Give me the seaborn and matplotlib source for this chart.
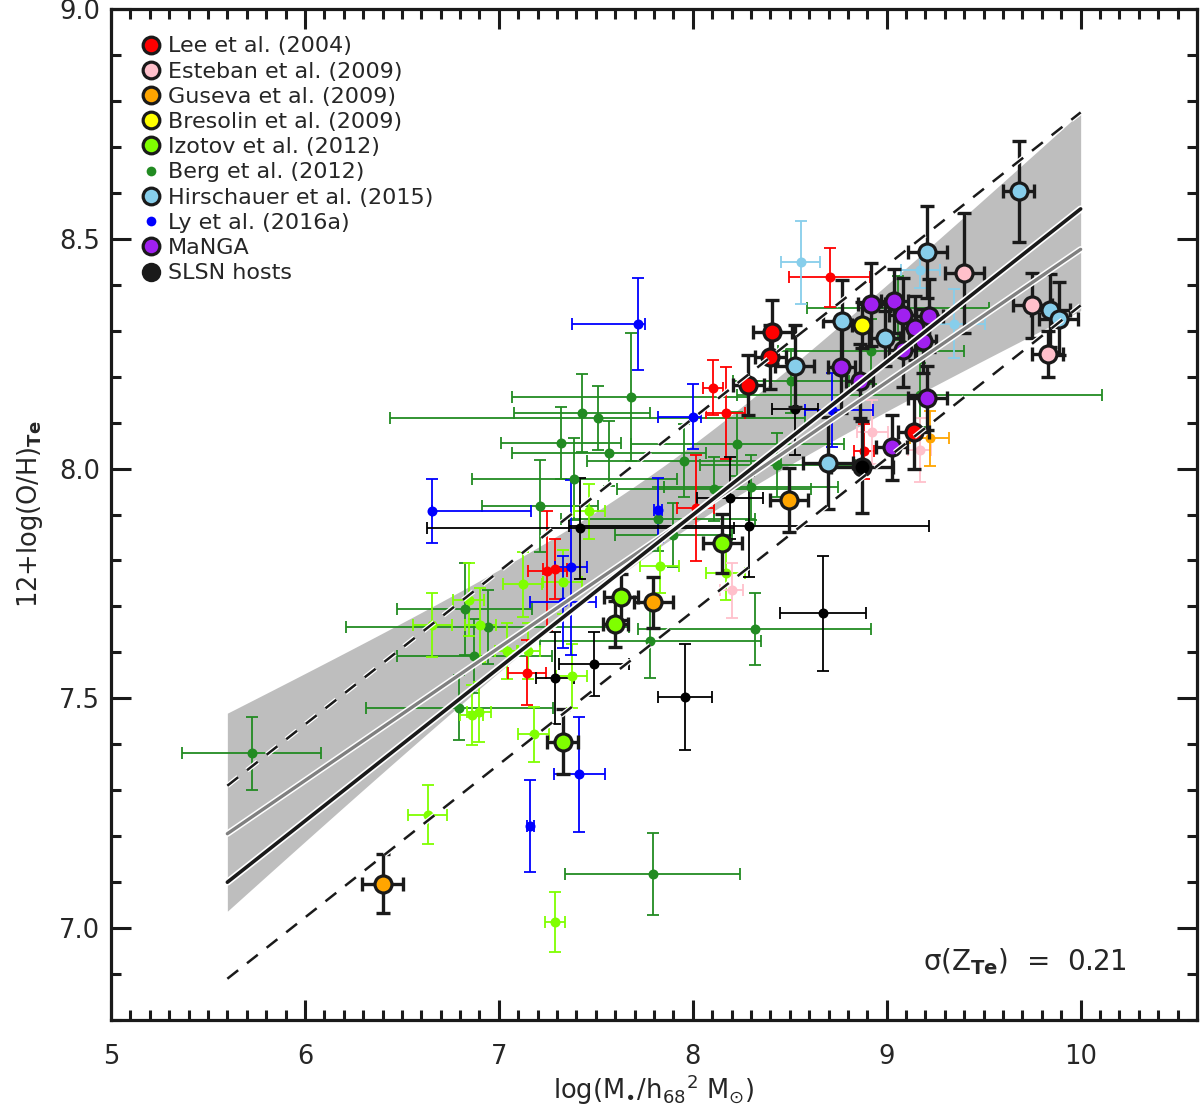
import numpy as np
import pandas as pd
import matplotlib
matplotlib.use("Agg")
import matplotlib.pyplot as plt
import seaborn as sns
from matplotlib.lines import Line2D
from matplotlib.ticker import MultipleLocator, FormatStrFormatter
import matplotlib.patheffects as pe

# ---------------- data ----------------
# Lee et al. (2004)
lee_big_x = [8.41, 8.285, 8.40, 9.14]
lee_big_y = [8.297, 8.182, 8.243, 8.08]
lee_big_xe = [0.10, 0.08, 0.08, 0.08]
lee_big_ye = [0.07, 0.065, 0.07, 0.08]
lee_sm_x = [8.706, 8.105, 8.17, 8.016, 7.25, 7.29, 7.145, 8.883]
lee_sm_y = [8.416, 8.176, 8.12, 7.914, 7.777, 7.782, 7.556, 8.038]
lee_sm_xe = [0.21, 0.05, 0.10, 0.095, 0.10, 0.06, 0.10, 0.05]
lee_sm_ye = [0.065, 0.06, 0.10, 0.116, 0.13, 0.065, 0.07, 0.06]

# Esteban et al. (2009)
est_big_x = [9.40, 9.75, 9.83]
est_big_y = [8.425, 8.355, 8.25]
est_big_xe = [0.10, 0.10, 0.08]
est_big_ye = [0.13, 0.07, 0.05]
est_sm_x = [8.925, 8.20, 9.17]
est_sm_y = [8.08, 7.735, 8.04]
est_sm_xe = [0.08, 0.06, 0.06]
est_sm_ye = [0.07, 0.06, 0.07]

# Guseva et al. (2009)
gus_big_x = [6.40, 7.796, 8.496]
gus_big_y = [7.097, 7.709, 7.931]
gus_big_xe = [0.105, 0.10, 0.10]
gus_big_ye = [0.065, 0.055, 0.07]
gus_sm_x = [9.222]
gus_sm_y = [8.066]
gus_sm_xe = [0.10]
gus_sm_ye = [0.06]

# Bresolin et al. (2009)
bre_big_x = [8.87]
bre_big_y = [8.312]
bre_big_xe = [0.05]
bre_big_ye = [0.05]

# Izotov et al. (2012)
izo_big_x = [7.33, 7.60, 7.63, 8.153]
izo_big_y = [7.406, 7.661, 7.72, 7.837]
izo_big_xe = [0.08, 0.065, 0.09, 0.10]
izo_big_ye = [0.07, 0.05, 0.05, 0.065]
izo_sm_x = [6.634, 7.29, 6.656, 6.845, 6.905, 6.859, 6.897, 7.04, 7.152, 7.123,
            7.33, 7.18, 7.375, 7.467, 7.83, 8.17]
izo_sm_y = [7.247, 7.014, 7.659, 7.715, 7.659, 7.464, 7.471, 7.603, 7.603, 7.748,
            7.753, 7.422, 7.549, 7.907, 7.789, 7.773]
izo_sm_xe = [0.10, 0.05, 0.10, 0.08, 0.08, 0.06, 0.06, 0.06, 0.06, 0.10,
             0.10, 0.08, 0.08, 0.08, 0.10, 0.10]
izo_sm_ye = [0.065, 0.065, 0.07, 0.08, 0.08, 0.065, 0.065, 0.06, 0.06, 0.07,
             0.07, 0.06, 0.07, 0.06, 0.06, 0.06]

# Berg et al. (2012)
berg_x = [5.725, 6.823, 6.943, 6.874, 6.797, 7.68, 7.43, 7.51, 7.32, 7.57,
          7.39, 7.213, 7.823, 7.956, 8.23, 8.107, 8.30, 8.436, 8.32, 7.90,
          7.78, 8.92, 8.505, 7.793, 9.06, 9.17]
berg_y = [7.380, 7.695, 7.655, 7.592, 7.48, 8.156, 8.12, 8.11, 8.056, 8.033,
          7.977, 7.918, 7.89, 8.017, 8.053, 7.956, 7.959, 8.008, 7.651, 7.856,
          7.625, 8.255, 8.19, 7.117, 8.35, 8.16]
berg_xe = [0.36, 0.35, 0.73, 0.40, 0.48, 0.61, 0.35, 1.07, 0.31, 0.50,
           0.53, 0.30, 0.50, 0.50, 0.55, 0.50, 0.45, 0.40, 0.60, 0.30,
           0.57, 0.48, 0.30, 0.45, 0.47, 0.94]
berg_ye = [0.08, 0.10, 0.08, 0.08, 0.07, 0.14, 0.085, 0.07, 0.078, 0.07,
           0.09, 0.10, 0.07, 0.08, 0.07, 0.07, 0.07, 0.07, 0.078, 0.07,
           0.08, 0.07, 0.07, 0.089, 0.07, 0.07]

# Hirschauer et al. (2015)
hir_big_x = [9.68, 9.21, 8.771, 8.526, 8.99, 8.697, 9.844, 9.887]
hir_big_y = [8.603, 8.471, 8.321, 8.223, 8.283, 8.013, 8.344, 8.326]
hir_big_xe = [0.08, 0.10, 0.10, 0.10, 0.08, 0.13, 0.10, 0.10]
hir_big_ye = [0.11, 0.10, 0.09, 0.09, 0.06, 0.10, 0.08, 0.08]
hir_sm_x = [8.557, 9.174, 9.346]
hir_sm_y = [8.449, 8.432, 8.315]
hir_sm_xe = [0.10, 0.10, 0.16]
hir_sm_ye = [0.09, 0.04, 0.075]

# Ly et al. (2016a)
ly_x = [7.715, 6.655, 7.82, 7.372, 8.0, 7.415, 7.163, 7.33, 8.72]
ly_y = [8.315, 7.907, 7.91, 7.785, 8.113, 7.335, 7.222, 7.71, 8.127]
ly_xe_lo = [0.34, 0.0, 0.02, 0.08, 0.18, 0.13, 0.02, 0.17, 0.14]
ly_xe_hi = [0.04, 0.51, 0.02, 0.08, 0.04, 0.13, 0.02, 0.17, 0.21]
ly_ye = [0.10, 0.07, 0.07, 0.19, 0.07, 0.125, 0.10, 0.10, 0.08]

# MaNGA
man_x = [8.92, 9.04, 9.083, 9.22, 9.148, 9.186, 9.083, 8.766, 8.86, 9.21, 9.025]
man_y = [8.357, 8.364, 8.335, 8.333, 8.306, 8.277, 8.257, 8.22, 8.19, 8.154, 8.046]
man_xe = [0.07, 0.07, 0.07, 0.07, 0.07, 0.07, 0.07, 0.07, 0.07, 0.10, 0.08]
man_ye = [0.09, 0.07, 0.08, 0.08, 0.07, 0.07, 0.08, 0.10, 0.08, 0.07, 0.07]

# SLSN hosts
sl_big_x = [8.874]
sl_big_y = [8.004]
sl_big_xe = [0.16]
sl_big_ye = [0.10]
sl_sm_x = [8.527, 8.19, 8.29, 7.42, 7.49, 7.29, 7.96, 8.671]
sl_sm_y = [8.129, 7.936, 7.874, 7.87, 7.574, 7.545, 7.503, 7.685]
sl_sm_xe = [0.12, 0.17, 0.93, 0.79, 0.18, 0.10, 0.14, 0.22]
sl_sm_ye = [0.10, 0.09, 0.11, 0.11, 0.07, 0.10, 0.115, 0.125]

# fit parameters (pivot at x=8)
fit_pivot = 8.0
fit_black = (7.899, 0.333)
fit_gray = (7.899, 0.289)
sigma_z = 0.21
band_center = (7.965, 0.297)
band_h0, band_k, band_x0 = 0.085, 0.090, 7.8
fit_range = (5.6, 10.0)

legend_labels = ["Lee et al. (2004)", "Esteban et al. (2009)", "Guseva et al. (2009)",
                 "Bresolin et al. (2009)", "Izotov et al. (2012)", "Berg et al. (2012)",
                 "Hirschauer et al. (2015)", "Ly et al. (2016a)", "MaNGA", "SLSN hosts"]

C_RED, C_PINK, C_ORANGE, C_YELLOW = "#FF0000", "#FFC0CB", "#FFA500", "#FFFF00"
C_LIME, C_GREEN, C_SKY, C_BLUE = "#7FFF00", "#228B22", "#87CEEB", "#0000FF"
C_PURPLE, C_BLACK = "#A020F0", "#000000"

# ---------------- plot ----------------
sns.set_theme(style="ticks")
plt.rcParams["font.family"] = ["DejaVu Sans"]
plt.rcParams["mathtext.fontset"] = "dejavusans"

fig = plt.figure(figsize=(12, 11.12), dpi=100)
ax = fig.add_axes([111 / 1200, 1 - 1020 / 1112, 1086 / 1200, 1011 / 1112])

# shaded confidence band
xx = np.linspace(fit_range[0], fit_range[1], 200)
cc = band_center[0] + band_center[1] * (xx - fit_pivot)
hh = np.sqrt(band_h0 ** 2 + (band_k * (xx - band_x0)) ** 2)
ax.fill_between(xx, cc - hh, cc + hh, color="#BEBEBE", lw=0, zorder=1)

SM_S = 52
BIG_S = 150


def small(x, y, xe, ye, color, z=2):
    ax.errorbar(x, y, xerr=xe, yerr=ye, fmt="none", ecolor=color, elinewidth=1.3,
                capsize=4.6, capthick=1.3, zorder=z)
    df = pd.DataFrame({"x": x, "y": y})
    sns.scatterplot(data=df, x="x", y="y", color=color, s=SM_S, linewidth=0,
                    ax=ax, zorder=z + 0.5, legend=False)


def big(x, y, xe, ye, color):
    ax.errorbar(x, y, xerr=xe, yerr=ye, fmt="none", ecolor="k", elinewidth=2.4,
                capsize=4.8, capthick=2.4, zorder=4)
    df = pd.DataFrame({"x": x, "y": y})
    sns.scatterplot(data=df, x="x", y="y", color=color, s=BIG_S, edgecolor="k",
                    linewidth=2.3, ax=ax, zorder=5, legend=False)


small(berg_x, berg_y, berg_xe, berg_ye, C_GREEN)
small(izo_sm_x, izo_sm_y, izo_sm_xe, izo_sm_ye, C_LIME)
small(lee_sm_x, lee_sm_y, lee_sm_xe, lee_sm_ye, C_RED)
small(est_sm_x, est_sm_y, est_sm_xe, est_sm_ye, C_PINK)
small(gus_sm_x, gus_sm_y, gus_sm_xe, gus_sm_ye, C_ORANGE)
small(hir_sm_x, hir_sm_y, hir_sm_xe, hir_sm_ye, C_SKY)
small(ly_x, ly_y, [ly_xe_lo, ly_xe_hi], ly_ye, C_BLUE)
small(sl_sm_x, sl_sm_y, sl_sm_xe, sl_sm_ye, C_BLACK)

big(lee_big_x, lee_big_y, lee_big_xe, lee_big_ye, C_RED)
big(est_big_x, est_big_y, est_big_xe, est_big_ye, C_PINK)
big(gus_big_x, gus_big_y, gus_big_xe, gus_big_ye, C_ORANGE)
big(bre_big_x, bre_big_y, bre_big_xe, bre_big_ye, C_YELLOW)
big(izo_big_x, izo_big_y, izo_big_xe, izo_big_ye, C_LIME)
big(hir_big_x, hir_big_y, hir_big_xe, hir_big_ye, C_SKY)
big(man_x, man_y, man_xe, man_ye, C_PURPLE)
big(sl_big_x, sl_big_y, sl_big_xe, sl_big_ye, C_BLACK)

# fit lines
yb = fit_black[0] + fit_black[1] * (xx - fit_pivot)
yg = fit_gray[0] + fit_gray[1] * (xx - fit_pivot)
ax.plot(xx, yg, color="#808080", lw=2.4, zorder=6,
        path_effects=[pe.withStroke(linewidth=4.6, foreground="white")])
ax.plot(xx, yb, color="k", lw=2.6, zorder=6.2,
        path_effects=[pe.withStroke(linewidth=5.0, foreground="white")])
for s in (+1, -1):
    ax.plot(xx, yb + s * sigma_z, color="k", lw=1.8, ls=(0, (5.5, 4.5)), zorder=6.1,
            path_effects=[pe.withStroke(linewidth=3.6, foreground="white")])

# axes
ax.set_xlim(5, 10.6)
ax.set_ylim(6.8, 9.0)
ax.xaxis.set_major_locator(MultipleLocator(1))
ax.xaxis.set_minor_locator(MultipleLocator(0.1))
ax.yaxis.set_major_locator(MultipleLocator(0.5))
ax.yaxis.set_minor_locator(MultipleLocator(0.1))
ax.yaxis.set_major_formatter(FormatStrFormatter("%.1f"))
ax.tick_params(which="both", direction="in", top=True, right=True, width=2.2, color="k")
ax.tick_params(which="major", length=14.5, labelsize=18.5)
ax.tick_params(which="minor", length=7.5)
ax.tick_params(axis="x", which="major", pad=17)
ax.tick_params(axis="y", which="major", pad=8)
for sp in ax.spines.values():
    sp.set_linewidth(2.3)
    sp.set_color("k")

ax.set_xlabel(r"log(M$_{\bullet}$/h$_{68}$$^{2}$ M$_{\odot}$)", fontsize=18.5, labelpad=2)
ax.set_ylabel(r"12+log(O/H)$_{\mathbf{Te}}$", fontsize=18.5, labelpad=10)

ax.text(0.748, 0.049, r"σ(Z$_{\mathbf{Te}}$)  =  0.21", transform=ax.transAxes,
        fontsize=20, ha="left", va="baseline")

# legend
big_cols = {0: C_RED, 1: C_PINK, 2: C_ORANGE, 3: C_YELLOW, 4: C_LIME, 6: C_SKY, 8: C_PURPLE}
handles = []
for i, lab in enumerate(legend_labels):
    if i in big_cols:
        h = Line2D([], [], ls="none", marker="o", markersize=12, markerfacecolor=big_cols[i],
                   markeredgecolor="k", markeredgewidth=2.3)
    elif i == 5:
        h = Line2D([], [], ls="none", marker="o", markersize=7, markerfacecolor=C_GREEN,
                   markeredgewidth=0)
    elif i == 7:
        h = Line2D([], [], ls="none", marker="o", markersize=7, markerfacecolor=C_BLUE,
                   markeredgewidth=0)
    else:
        h = Line2D([], [], ls="none", marker="o", markersize=14, markerfacecolor="k",
                   markeredgecolor="k", markeredgewidth=0)
    handles.append(h)
ax.legend(handles, legend_labels, loc="upper left", bbox_to_anchor=(0.027, 0.973),
          frameon=False, fontsize=16, handlelength=1.0, handletextpad=0.25,
          labelspacing=0.235, borderpad=0, borderaxespad=0)

fig.savefig("out.png", dpi=100)
